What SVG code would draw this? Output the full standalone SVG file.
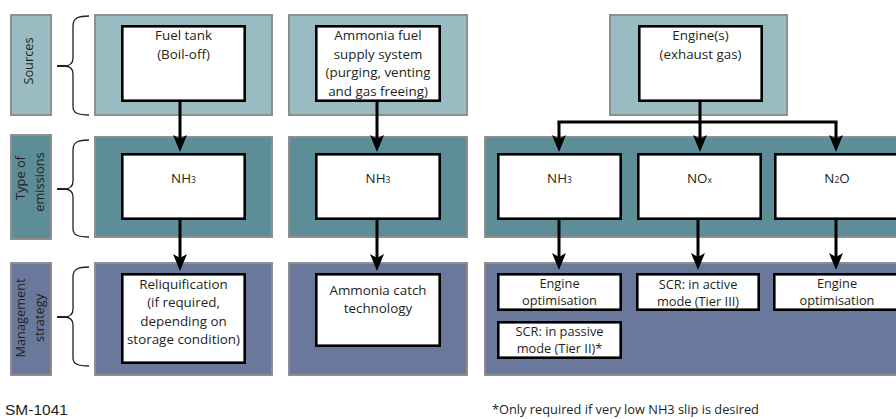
<svg xmlns="http://www.w3.org/2000/svg" width="896" height="419" viewBox="0 0 896 419">
<defs>
<style>
.src{fill:#98bcc1;stroke:#8e8e8e;stroke-width:2}
.typ{fill:#5d8d97;stroke:#8e8e8e;stroke-width:2}
.mgt{fill:#6a789b;stroke:#8e8e8e;stroke-width:2}
.box{fill:#ffffff;stroke:#000000;stroke-width:2.6}
.t{font-family:"Open Sans","Noto Sans",sans-serif;font-size:13.4px;fill:#231f20;text-anchor:middle}
.tm{font-size:12.8px}
.lab{font-family:"Open Sans","Noto Sans",sans-serif;font-size:12.8px;fill:#231f20;text-anchor:middle}
.sub{font-size:8.5px}
.brace{fill:none;stroke:#231f20;stroke-width:1.3}
.tick{fill:none;stroke:#231f20;stroke-width:2}
.conn{fill:none;stroke:#000000;stroke-width:3}
.arr{fill:none;stroke:#000000;stroke-width:3;marker-end:url(#ah)}
</style>
<marker id="ah" markerUnits="userSpaceOnUse" viewBox="0 -7 17 14" refX="9" refY="0" markerWidth="17" markerHeight="14" orient="auto">
<path d="M0,-7 L17,0 L0,7 L4,0 Z" fill="#000000"/>
</marker>
</defs>

<g id="labels">
<g id="label-sources">
<rect class="src" x="11" y="15" width="40" height="100"/>
<text class="lab" transform="translate(33,61) rotate(-90)">Sources</text>
<path class="brace" d="M89,16 C78,16 73,18 73,26 L73,58 C73,63 70,66 64,66 M64,66 C70,66 73,69 73,74 L73,107 C73,113 78,115 89,115"/>
<path class="tick" d="M57,66 L66,66"/>
</g>
<g id="label-type">
<rect class="typ" x="11" y="135" width="40" height="104"/>
<text class="lab" transform="translate(25,178) rotate(-90)">Type of</text>
<text class="lab" transform="translate(43.5,182) rotate(-90)">emissions</text>
<path class="brace" d="M89,140 C78,140 73,142 73,150 L73,181 C73,186 70,189 64,189 M64,189 C70,189 73,192 73,197 L73,229 C73,235 78,237 89,237"/>
<path class="tick" d="M57,189 L66,189"/>
</g>
<g id="label-management">
<rect class="mgt" x="11" y="263" width="40" height="112"/>
<text class="lab" transform="translate(25,318) rotate(-90)">Management</text>
<text class="lab" transform="translate(43.5,318) rotate(-90)">strategy</text>
<path class="brace" d="M89,267 C78,267 73,269 73,277 L73,309 C73,314 70,317 64,317 M64,317 C70,317 73,320 73,325 L73,358 C73,364 78,366 89,366"/>
<path class="tick" d="M57,317 L66,317"/>
</g>
</g>

<g id="panels">
<rect id="panel-src-1" class="src" x="95" y="15" width="177" height="100"/>
<rect id="panel-src-2" class="src" x="289" y="15" width="178" height="100"/>
<rect id="panel-src-3" class="src" x="610" y="15" width="177" height="100"/>
<rect id="panel-typ-1" class="typ" x="95" y="137" width="177" height="100"/>
<rect id="panel-typ-2" class="typ" x="289" y="137" width="178" height="100"/>
<rect id="panel-typ-3" class="typ" x="485" y="137" width="430" height="100"/>
<rect id="panel-mgt-1" class="mgt" x="95" y="263" width="177" height="112"/>
<rect id="panel-mgt-2" class="mgt" x="289" y="263" width="178" height="112"/>
<rect id="panel-mgt-3" class="mgt" x="485" y="263" width="430" height="112"/>
</g>

<g id="connectors">
<path class="arr" d="M180,102 L180,144"/>
<path class="arr" d="M180,220 L180,263"/>
<path class="arr" d="M377,102 L377,144"/>
<path class="arr" d="M377,220 L377,263"/>
<path class="conn" d="M700,102 L700,122 M557.5,122 L837.5,122"/>
<path class="arr" d="M559,122 L559,144"/>
<path class="arr" d="M700,122 L700,144"/>
<path class="arr" d="M836,122 L836,144"/>
<path class="arr" d="M559,220 L559,262"/>
<path class="arr" d="M698,220 L698,262"/>
<path class="arr" d="M836,220 L836,262"/>
</g>

<g id="node-fuel-tank">
<rect class="box" x="122.3" y="26.3" width="122.4" height="74.4"/>
<text class="t" x="183.5" y="40">Fuel tank</text>
<text class="t" x="183.5" y="58.5">(Boil-off)</text>
</g>
<g id="node-fuel-supply">
<rect class="box" x="316.3" y="26.3" width="123.4" height="74.4"/>
<text class="t" x="378" y="40">Ammonia fuel</text>
<text class="t" x="378" y="58.5">supply system</text>
<text class="t" x="378" y="77">(purging, venting</text>
<text class="t" x="378" y="95.5">and gas freeing)</text>
</g>
<g id="node-engine">
<rect class="box" x="639.3" y="26.3" width="122.4" height="74.4"/>
<text class="t" x="700.5" y="40">Engine(s)</text>
<text class="t" x="700.5" y="58.5">(exhaust gas)</text>
</g>

<g id="node-nh3-1">
<rect class="box" x="122.3" y="154.3" width="122.4" height="64.4"/>
<text class="t" x="183.5" y="183">NH<tspan class="sub">3</tspan></text>
</g>
<g id="node-nh3-2">
<rect class="box" x="316.3" y="154.3" width="123.4" height="64.4"/>
<text class="t" x="378" y="183">NH<tspan class="sub">3</tspan></text>
</g>
<g id="node-nh3-3">
<rect class="box" x="498.3" y="154.3" width="122.4" height="64.4"/>
<text class="t" x="559.5" y="183">NH<tspan class="sub">3</tspan></text>
</g>
<g id="node-nox">
<rect class="box" x="638.3" y="154.3" width="122.4" height="64.4"/>
<text class="t" x="699.5" y="183">NO<tspan class="sub">x</tspan></text>
</g>
<g id="node-n2o">
<rect class="box" x="775.3" y="154.3" width="122.4" height="64.4"/>
<text class="t" x="837" y="183">N<tspan class="sub">2</tspan>O</text>
</g>

<g id="node-reliquification">
<rect class="box" x="122.3" y="274.3" width="122.4" height="88.4"/>
<text class="t" x="183.5" y="288.5">Reliquification</text>
<text class="t" x="183.5" y="307">(if required,</text>
<text class="t" x="183.5" y="325.5">depending on</text>
<text class="t" x="183.5" y="344">storage condition)</text>
</g>
<g id="node-ammonia-catch">
<rect class="box" x="316.3" y="274.3" width="123.4" height="71.4"/>
<text class="t" x="378" y="294.5">Ammonia catch</text>
<text class="t" x="378" y="312.5">technology</text>
</g>
<g id="node-engine-opt-1">
<rect class="box" x="498.3" y="274.3" width="122.4" height="35.4"/>
<text class="t tm" x="559.5" y="287.5">Engine</text>
<text class="t tm" x="559.5" y="305">optimisation</text>
</g>
<g id="node-scr-active">
<rect class="box" x="637.3" y="274.3" width="121.4" height="35.4"/>
<text class="t tm" x="698" y="288.5">SCR: in active</text>
<text class="t tm" x="698" y="306">mode (Tier III)</text>
</g>
<g id="node-engine-opt-2">
<rect class="box" x="774.3" y="274.3" width="123.4" height="35.4"/>
<text class="t tm" x="837" y="287.5">Engine</text>
<text class="t tm" x="837" y="305">optimisation</text>
</g>
<g id="node-scr-passive">
<rect class="box" x="498.3" y="322.3" width="122.4" height="35.4"/>
<text class="t tm" x="559.5" y="335.5">SCR: in passive</text>
<text class="t tm" x="559.5" y="353">mode (Tier II)*</text>
</g>

<g id="footer">
<text x="5" y="415" font-family="Liberation Sans, Arial, sans-serif" font-size="15.5" fill="#231f20">SM-1041</text>
<text x="492" y="414" font-family="Open Sans, Noto Sans, sans-serif" font-size="12.8" fill="#231f20">*Only required if very low NH3 slip is desired</text>
</g>
</svg>
